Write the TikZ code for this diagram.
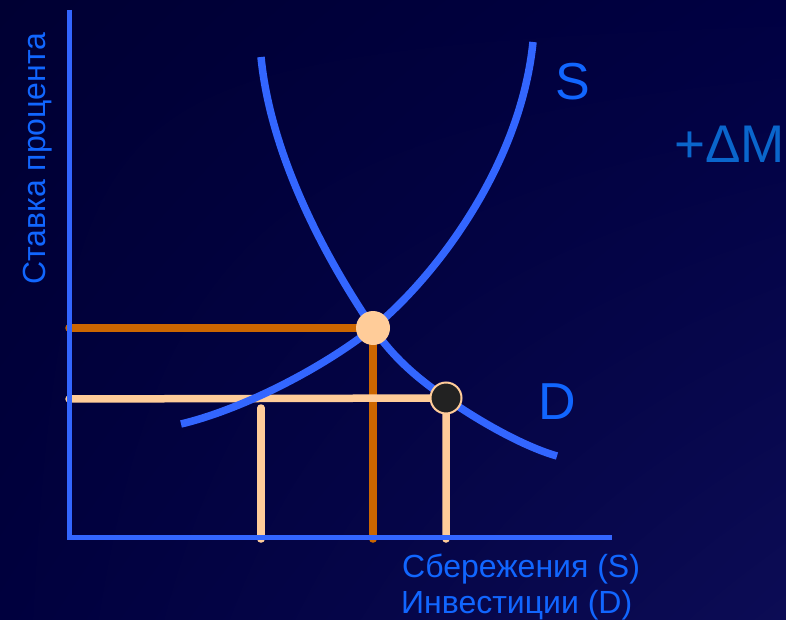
\documentclass[tikz,border=0pt]{standalone}
\usepackage{fontspec}
\setmainfont{Liberation Sans}
\usetikzlibrary{shadings}
\definecolor{bgA}{HTML}{000033}
\definecolor{bgB}{HTML}{000042}
\definecolor{bgC}{HTML}{00003E}
\definecolor{bgD}{HTML}{0C0C55}
\definecolor{curveblue}{HTML}{3366FF}
\definecolor{labelblue}{HTML}{1166FF}
\definecolor{dmblue}{HTML}{0A66CC}
\definecolor{orangeline}{HTML}{CC6600}
\definecolor{peach}{HTML}{FFCC99}
\definecolor{darkdot}{HTML}{222222}
\tikzset{
  axisline/.style={curveblue, line width=5pt},
  curve/.style={curveblue, line width=7.5pt},
  orangeguide/.style={orangeline, line width=7.5pt, line cap=round},
  peachguide/.style={peach, line width=7.5pt, line cap=round},
  lbl/.style={labelblue, inner sep=0pt},
  eqdot/.style={circle, fill=peach, minimum size=34pt, inner sep=0pt},
  newdot/.style={circle, fill=darkdot, draw=peach, line width=2pt, minimum size=31pt, inner sep=0pt},
}
\begin{document}
\begin{tikzpicture}[x=1pt,y=-1pt]
\shade[upper left=bgA, upper right=bgB, lower left=bgC, lower right=bgD] (0,0) rectangle (786,620);
\useasboundingbox (0,0) rectangle (786,620);
% key points
\coordinate (E) at (373,328);
\coordinate (F) at (446,398);
\coordinate (O) at (69,537);
\coordinate (ytop) at (69,10);
\coordinate (xend) at (612,537);
\coordinate (eY) at (69,328);
\coordinate (fY) at (69,399);
\coordinate (eX) at (373,539);
\coordinate (fX) at (446,539);
\coordinate (gT) at (261,408);
\coordinate (gX) at (261,539);
\coordinate (Dstart) at (261,57);
\coordinate (Dend) at (557,456);
\coordinate (Sstart) at (181,424);
\coordinate (Send) at (533,42);
% guide lines
\draw[orangeguide] (eY) -- (E) -- (eX);
\draw[peachguide] (fY) -- (F) -- (fX);
\draw[peachguide] (gT) -- (gX);
% axes
\draw[axisline] (ytop) -- (O) -- (xend);
% demand curve D
\draw[curve] (Dstart) .. controls (270,150) and (320,250) .. (E)
  .. controls (395,360) and (420,380) .. (F)
  .. controls (480,422) and (525,447) .. (Dend);
% supply curve S
\draw[curve] (Sstart) .. controls (240,410) and (320,370) .. (E)
  .. controls (430,282) and (520,170) .. (Send);
% points
\node[eqdot] (Edot) at (E) {};
\node[newdot] (Fdot) at (F) {};
% labels
\node[lbl, anchor=base west, rotate=90, font=\fontsize{32}{36}\selectfont] (ylab) at (45,285) {Ставка процента};
\node[lbl, anchor=base west, font=\fontsize{32}{35}\selectfont] (xlab1) at (402,577) {Сбережения (S)};
\node[lbl, anchor=base west, font=\fontsize{32}{35}\selectfont] (xlab2) at (401,613) {Инвестиции (D)};
\node[lbl, anchor=base, font=\fontsize{52}{56}\selectfont] (Slab) at (573,100) {S};
\node[lbl, anchor=base, font=\fontsize{52}{56}\selectfont] (Dlab) at (557,419) {D};
\node[dmblue, inner sep=0pt, anchor=base west, font=\fontsize{53}{56}\selectfont] (dM) at (674,163) {+ΔM};
\end{tikzpicture}
\end{document}
